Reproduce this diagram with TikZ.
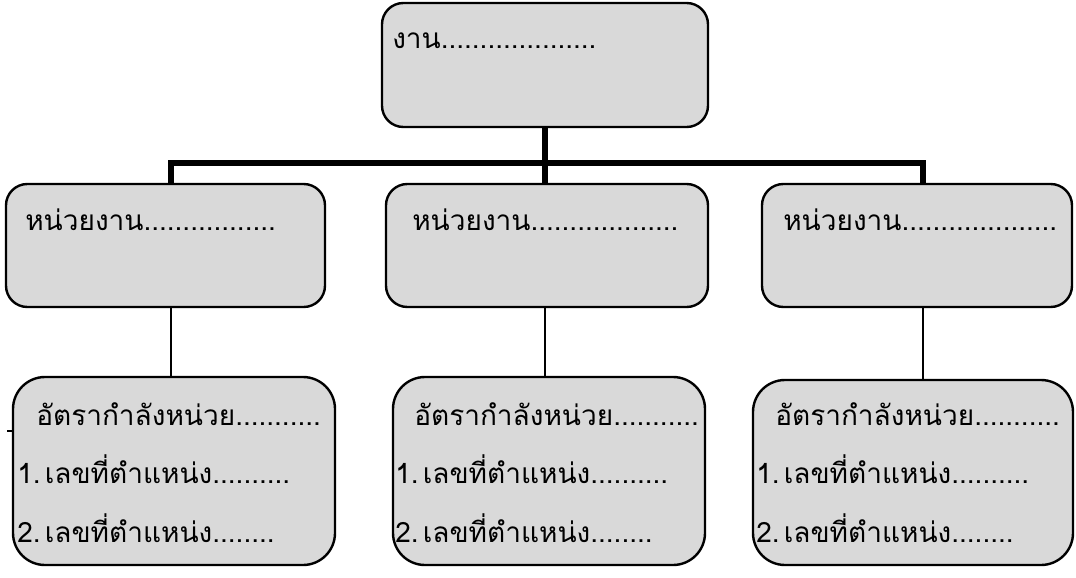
\documentclass[tikz,border=0pt]{standalone}
\usepackage{fontspec}
\newfontfamily\thaifont[Script=Thai]{Loma}
\usetikzlibrary{positioning}

\begin{document}
\begin{tikzpicture}[x=0.75pt, y=-0.75pt,
  box/.style={draw, line width=1.8pt, fill=black!15, rounded corners=16pt, inner sep=0pt},
  word/.style={anchor=base west, inner sep=0pt, font=\thaifont\fontsize{21}{24}\selectfont},
  trunk/.style={line width=4.5pt},
  twig/.style={line width=0.8pt}]

\useasboundingbox (0,0) rectangle (1076,578);

\node[box, minimum width=326*0.75pt, minimum height=124*0.75pt] (head) at (545,65) {};
\node[word] (headtxt) at (392,48) {งาน....................};

\node[box, minimum width=319*0.75pt, minimum height=123*0.75pt] (unit1) at (165.5,245.5) {};
\node[box, minimum width=322*0.75pt, minimum height=123*0.75pt] (unit2) at (547,245.5) {};
\node[box, minimum width=310*0.75pt, minimum height=123*0.75pt] (unit3) at (917,245.5) {};
\node[word] (u1txt) at (25,230) {หน่วยงาน.................};
\node[word] (u2txt) at (412,230) {หน่วยงาน...................};
\node[word] (u3txt) at (783,230) {หน่วยงาน....................};

\node[box, rounded corners=24pt, minimum width=322*0.75pt, minimum height=188*0.75pt] (rate1) at (174,471) {};
\node[box, rounded corners=24pt, minimum width=312*0.75pt, minimum height=188*0.75pt] (rate2) at (549,471) {};
\node[box, rounded corners=24pt, minimum width=320*0.75pt, minimum height=185*0.75pt] (rate3) at (913,472.5) {};

\node[word] (r1a) at (36,425) {อัตรากำลังหน่วย...........};
\node[word] (r1b) at (17,483) {1.\hspace{0.15em}เลขที่ตำแหน่ง..........};
\node[word] (r1c) at (17,542) {2.\hspace{0.15em}เลขที่ตำแหน่ง........};
\node[word] (r2a) at (414,425) {อัตรากำลังหน่วย...........};
\node[word] (r2b) at (395,483) {1.\hspace{0.15em}เลขที่ตำแหน่ง..........};
\node[word] (r2c) at (395,542) {2.\hspace{0.15em}เลขที่ตำแหน่ง........};
\node[word] (r3a) at (775,425) {อัตรากำลังหน่วย...........};
\node[word] (r3b) at (756,483) {1.\hspace{0.15em}เลขที่ตำแหน่ง..........};
\node[word] (r3c) at (756,542) {2.\hspace{0.15em}เลขที่ตำแหน่ง........};

% thick tree
\coordinate (bar) at (545,163);
\coordinate (barL) at (171,163);
\coordinate (barR) at (923,163);
\path[draw] [trunk] (head) -- (bar);
\path[draw] [trunk, line cap=rect] (barL) -- (barR);
\path[draw] [trunk] (barL) -- (barL |- unit1.north);
\path[draw] [trunk] (bar) -- (bar |- unit2.north);
\path[draw] [trunk] (barR) -- (barR |- unit3.north);

% thin links
\path[draw] [twig] (barL |- unit1.south) -- (barL |- rate1.north);
\path[draw] [twig] (bar |- unit2.south) -- (bar |- rate2.north);
\path[draw] [twig] (barR |- unit3.south) -- (barR |- rate3.north);

\coordinate (tick) at (7,431);
\path[draw] [twig] (tick) -- (tick -| rate1.west);

\end{tikzpicture}
\end{document}
